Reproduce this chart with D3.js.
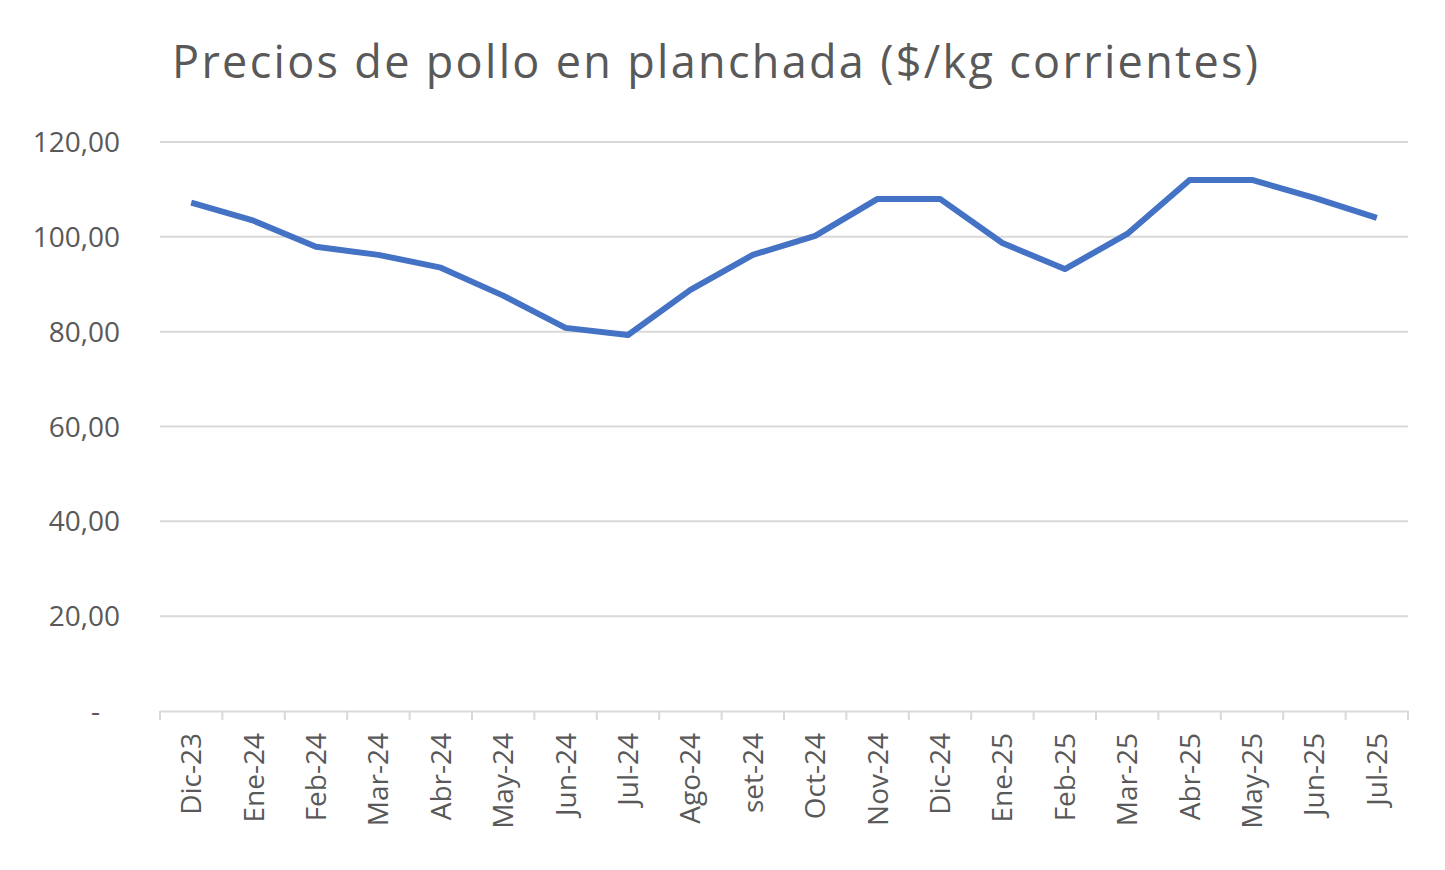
<!DOCTYPE html>
<html><head><meta charset="utf-8">
<script src="https://cdn.jsdelivr.net/npm/d3@7"></script>
<style>body{margin:0;background:#fff}</style>
</head><body>
<svg id="chart" width="1445" height="870"></svg>
<script>
var months = ['Dic-23','Ene-24','Feb-24','Mar-24','Abr-24','May-24','Jun-24','Jul-24','Ago-24','set-24','Oct-24','Nov-24','Dic-24','Ene-25','Feb-25','Mar-25','Abr-25','May-25','Jun-25','Jul-25'];
var prices = [107.2,103.4,97.9,96.2,93.5,87.6,80.8,79.3,88.8,96.2,100.2,108.0,108.0,98.7,93.2,100.6,112.0,112.0,108.2,104.0];
var yTicks = [0,20,40,60,80,100,120];

var svg = d3.select('#chart');
var pLeft = 160, pRight = 1408, pTop = 142, pBottom = 711;
var font = '"Open Sans", sans-serif';

var x = d3.scaleBand().domain(months).range([pLeft, pRight]);
var y = d3.scaleLinear().domain([0, 120]).range([pBottom, pTop]);

svg.append('text').attr('x', 172).attr('y', 78)
    .attr('font-family', font).attr('font-size', 45).attr('fill', '#595959')
    .attr('textLength', 1086).attr('lengthAdjust', 'spacing')
    .text('Precios de pollo en planchada ($/kg corrientes)');

// gridlines
svg.selectAll('.grid').data(yTicks.slice(1)).enter().append('line')
    .attr('x1', pLeft).attr('x2', pRight)
    .attr('y1', d => y(d)).attr('y2', d => y(d))
    .attr('stroke', '#d9d9d9').attr('stroke-width', 2);

var fmt = function(d) {
    return d === 0 ? '-' : d3.format('.2f')(d).replace('.', ',');
};
svg.selectAll('.ylab').data(yTicks).enter().append('text')
    .attr('x', d => d === 0 ? 100 : 120).attr('y', d => y(d) + 10)
    .attr('text-anchor', 'end')
    .attr('font-family', font).attr('font-size', 28).attr('fill', '#595959')
    .text(fmt);

// x axis
var xAxis = d3.axisBottom(x).tickSize(0).tickFormat('');
svg.append('g').attr('transform', 'translate(0,' + pBottom + ')').call(xAxis)
    .select('.domain').attr('stroke', '#d9d9d9').attr('stroke-width', 2);
var bounds = months.map(m => x(m)).concat([pRight]);
svg.selectAll('.xt').data(bounds).enter().append('line')
    .attr('x1', d => d).attr('x2', d => d)
    .attr('y1', pBottom).attr('y2', pBottom + 9)
    .attr('stroke', '#d9d9d9').attr('stroke-width', 2);

svg.selectAll('.xlab').data(months).enter().append('text')
    .attr('transform', d => 'translate(' + (x(d) + x.bandwidth() / 2 + 10) + ',' + (pBottom + 22) + ') rotate(-90)')
    .attr('text-anchor', 'end')
    .attr('font-family', font).attr('font-size', 28).attr('fill', '#595959')
    .text(d => d);

var line = d3.line()
    .x((d, i) => x(months[i]) + x.bandwidth() / 2)
    .y(d => y(d));
svg.append('path').datum(prices).attr('d', line)
    .attr('fill', 'none').attr('stroke', '#4472c4').attr('stroke-width', 6)
    .attr('stroke-linejoin', 'round');
</script>
</body></html>
